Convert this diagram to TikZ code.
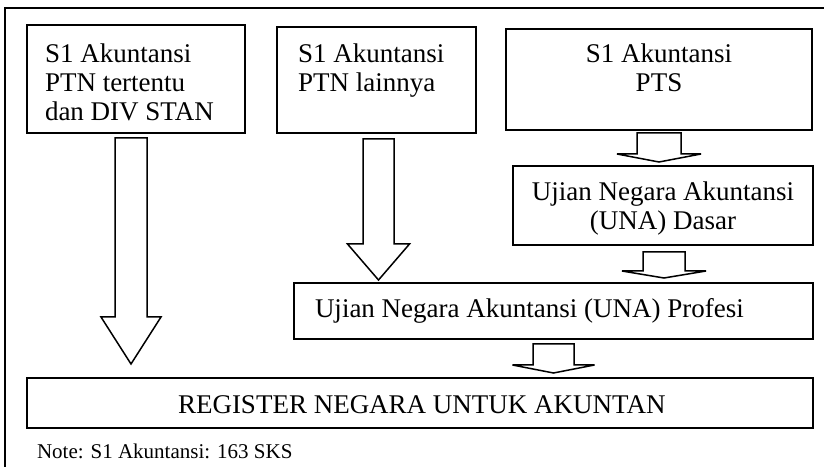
\documentclass[tikz,border=0pt]{standalone}
\usepackage{fontspec}
\setmainfont{Liberation Serif}
\begin{document}
\begin{tikzpicture}[x=1bp,y=-1bp,
  boxn/.style={draw,line width=1.6bp,inner sep=0,outer sep=0},
  txt/.style={inner sep=0,outer sep=0,font=\fontsize{27bp}{29bp}\selectfont},
  notetxt/.style={inner sep=0,outer sep=0,font=\fontsize{21bp}{24bp}\selectfont},
  blockarr/.style={draw,line width=1.5bp,line join=miter,fill=white}]
\useasboundingbox (0,0) rectangle (824,467);
% frame
\draw[line width=2bp] (5,467) -- (5,8) -- (824,8);
% boxes
\node[boxn,minimum width=218bp,minimum height=108bp] (b1) at (136,79) {};
\node[boxn,minimum width=199bp,minimum height=106bp] (b2) at (376.5,80) {};
\node[boxn,minimum width=306bp,minimum height=101bp] (b3) at (659,79.5) {};
\node[boxn,minimum width=300bp,minimum height=79bp] (b4) at (663,205.5) {};
\node[boxn,minimum width=519bp,minimum height=56bp] (b5) at (553.5,311) {};
\node[boxn,minimum width=786bp,minimum height=50bp] (b6) at (420,403) {};
% texts
\node[txt,anchor=base west] (t11) at (45,63) {S1 Akuntansi};
\node[txt,anchor=base west] (t12) at (45,92) {PTN tertentu};
\node[txt,anchor=base west] (t13) at (45,121) {dan DIV STAN};
\node[txt,anchor=base west] (t21) at (298,63) {S1 Akuntansi};
\node[txt,anchor=base west] (t22) at (298,92) {PTN lainnya};
\node[txt,anchor=base] (t31) at (659,63) {S1 Akuntansi};
\node[txt,anchor=base] (t32) at (659,92) {PTS};
\node[txt,anchor=base] (t41) at (663,201) {Ujian Negara Akuntansi};
\node[txt,anchor=base] (t42) at (663,230) {(UNA) Dasar};
\node[txt,anchor=base west] (t5) at (315,318) {Ujian Negara Akuntansi (UNA) Profesi};
\node[txt,anchor=base west] (t6) at (178,413) {REGISTER NEGARA UNTUK AKUNTAN};
\node[notetxt,anchor=base west] (note) at (37,458) {Note: S1 Akuntansi: 163 SKS};
% block arrows: cx, half shaft, half head, top, head row, tip
\newcommand{\blockarrow}[6]{%
  \draw[blockarr] (#1-#2,#4) -- (#1+#2,#4) -- (#1+#2,#5) -- (#1+#3,#5) -- (#1,#6)
    -- (#1-#3,#5) -- (#1-#2,#5) -- cycle;}
\blockarrow{131}{16}{30}{138}{317}{364}
\blockarrow{378.5}{15.5}{31}{139}{244}{280}
\blockarrow{659}{22}{42}{133}{154}{162}
\blockarrow{664}{21}{42}{252}{271}{278}
\blockarrow{553.5}{20.5}{41}{344}{365}{373}
\end{tikzpicture}
\end{document}
